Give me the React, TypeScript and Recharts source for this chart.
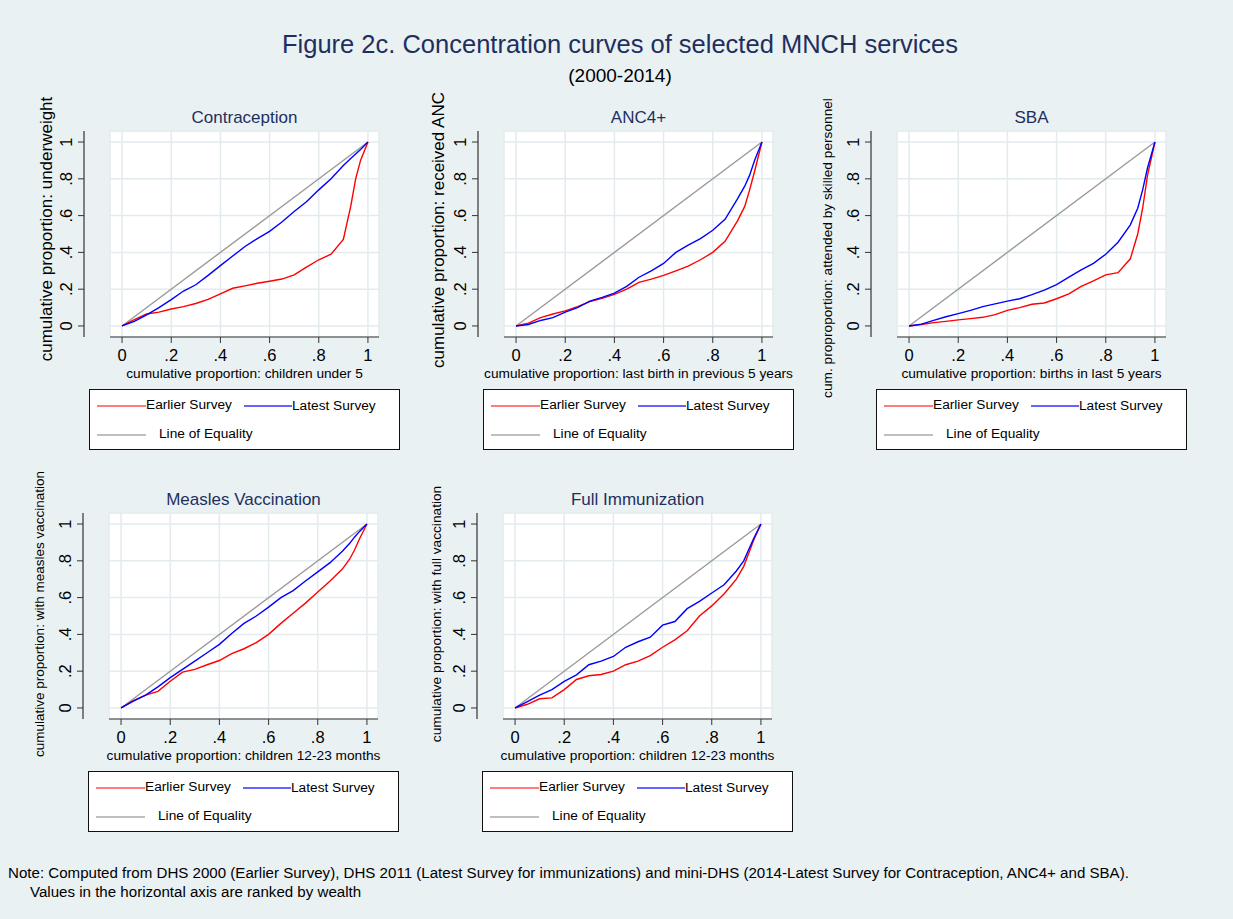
import React from "react";
import { LineChart, Line, XAxis, YAxis, CartesianGrid } from "recharts";

// cumulative share of population ranked by wealth (x)
const SHARE = [0, 0.05, 0.1, 0.15, 0.2, 0.25, 0.3, 0.35, 0.4, 0.45, 0.5, 0.55, 0.6, 0.65, 0.7, 0.75, 0.8, 0.85, 0.9, 0.93, 0.95, 0.97, 1];

// cumulative share of the outcome (y)
const CONTRA_EARLIER = [0, 0.035, 0.065, 0.075, 0.092, 0.105, 0.122, 0.145, 0.175, 0.205, 0.218, 0.232, 0.243, 0.255, 0.278, 0.32, 0.36, 0.39, 0.47, 0.65, 0.8, 0.9, 1];
const CONTRA_LATEST = [0, 0.025, 0.06, 0.1, 0.143, 0.19, 0.224, 0.275, 0.328, 0.38, 0.432, 0.475, 0.514, 0.565, 0.622, 0.675, 0.74, 0.8, 0.872, 0.91, 0.935, 0.96, 1];

const ANC_EARLIER = [0, 0.015, 0.045, 0.065, 0.082, 0.105, 0.132, 0.15, 0.172, 0.2, 0.237, 0.255, 0.275, 0.3, 0.325, 0.36, 0.4, 0.46, 0.57, 0.65, 0.74, 0.84, 1];
const ANC_LATEST = [0, 0.008, 0.03, 0.045, 0.075, 0.1, 0.135, 0.155, 0.178, 0.215, 0.265, 0.3, 0.34, 0.4, 0.44, 0.475, 0.52, 0.58, 0.69, 0.76, 0.82, 0.9, 1];

const SBA_EARLIER = [0, 0.008, 0.018, 0.025, 0.033, 0.04, 0.047, 0.062, 0.085, 0.1, 0.118, 0.125, 0.148, 0.175, 0.215, 0.245, 0.278, 0.29, 0.365, 0.5, 0.64, 0.82, 1];
const SBA_LATEST = [0, 0.01, 0.03, 0.05, 0.067, 0.085, 0.105, 0.12, 0.135, 0.148, 0.17, 0.195, 0.225, 0.265, 0.305, 0.34, 0.39, 0.455, 0.55, 0.64, 0.74, 0.86, 1];

const MEASLES_EARLIER = [0, 0.04, 0.07, 0.09, 0.145, 0.195, 0.21, 0.235, 0.258, 0.295, 0.322, 0.355, 0.4, 0.46, 0.515, 0.57, 0.63, 0.69, 0.755, 0.81, 0.86, 0.92, 1];
const MEASLES_LATEST = [0, 0.037, 0.07, 0.115, 0.165, 0.21, 0.255, 0.3, 0.346, 0.405, 0.46, 0.5, 0.548, 0.6, 0.638, 0.69, 0.74, 0.79, 0.852, 0.895, 0.93, 0.96, 1];

const FULL_EARLIER = [0, 0.02, 0.05, 0.055, 0.1, 0.155, 0.175, 0.182, 0.2, 0.235, 0.255, 0.285, 0.33, 0.37, 0.42, 0.5, 0.555, 0.62, 0.7, 0.77, 0.84, 0.91, 1];
const FULL_LATEST = [0, 0.035, 0.07, 0.1, 0.145, 0.18, 0.235, 0.255, 0.28, 0.33, 0.36, 0.385, 0.45, 0.47, 0.54, 0.58, 0.625, 0.67, 0.745, 0.8, 0.86, 0.92, 1];

const EQUALITY_X = [0, 1];
const EQUALITY_Y = [0, 1];

const AXIS_TICKS = [0, 0.2, 0.4, 0.6, 0.8, 1];
const AXIS_LABELS = ["0", ".2", ".4", ".6", ".8", "1"];

const BG = "#eaf1f3";
const GRID = "#e3ebee";
const NAVY = "#1e2f5e";
const AXIS = "#333333";
const FONT = '"Liberation Sans", Arial, Helvetica, sans-serif';
const TICK_FONT = 16.5;

const PANELS = [
  {
    title: "Contraception",
    xTitle: "cumulative proportion: children under 5",
    yTitle: "cumulative proportion: underweight",
    earlier: CONTRA_EARLIER,
    latest: CONTRA_LATEST,
    left: 0,
    top: 90,
    yFont: 17,
    yTitleDx: -64,
    yTitleDy: -5,
  },
  {
    title: "ANC4+",
    xTitle: "cumulative proportion: last birth in previous 5 years",
    yTitle: "cumulative proportion: received ANC",
    earlier: ANC_EARLIER,
    latest: ANC_LATEST,
    left: 394,
    top: 90,
    yFont: 17,
    yTitleDx: -66,
    yTitleDy: -4,
  },
  {
    title: "SBA",
    xTitle: "cumulative proportion: births in last 5 years",
    yTitle: "cum. proproportion: attended by skilled personnel",
    earlier: SBA_EARLIER,
    latest: SBA_LATEST,
    left: 787,
    top: 90,
    yFont: 13.7,
    yTitleDx: -70,
    yTitleDy: 14,
  },
  {
    title: "Measles Vaccination",
    xTitle: "cumulative proportion: children 12-23 months",
    yTitle: "cumulative proportion: with measles vaccination",
    earlier: MEASLES_EARLIER,
    latest: MEASLES_LATEST,
    left: -1,
    top: 472,
    yFont: 13.5,
    yTitleDx: -70,
    yTitleDy: -2,
  },
  {
    title: "Full Immunization",
    xTitle: "cumulative proportion: children 12-23 months",
    yTitle: "cumulative proportion: with full vaccination",
    earlier: FULL_EARLIER,
    latest: FULL_LATEST,
    left: 393,
    top: 472,
    yFont: 13.7,
    yTitleDx: -67,
    yTitleDy: -2,
  },
];

// chart geometry (same for every panel)
const CW = 402;
const CH = 372;
const PLOT_TOP = 41;
const PLOT_H = 206;
const Y_AXIS_W = 110;
const X_AXIS_H = 40;
const AXIS_GAP = 26;

const fmt = (v: number) => AXIS_LABELS[AXIS_TICKS.indexOf(v)] ?? String(v);

const YTick = (props: any) => {
  const { y, payload } = props;
  const ax = Y_AXIS_W - AXIS_GAP;
  const lx = ax - 18;
  return (
    <g>
      <line x1={ax - 6} x2={ax} y1={y} y2={y} stroke={AXIS} strokeWidth={1} />
      <text
        x={lx}
        y={y}
        transform={`rotate(-90 ${lx} ${y})`}
        textAnchor="middle"
        dominantBaseline="central"
        fontSize={TICK_FONT}
        fontFamily={FONT}
        fill="#000"
      >
        {fmt(payload.value)}
      </text>
    </g>
  );
};

function Panel({ p }: { p: (typeof PANELS)[number] }) {
  const data = SHARE.map((x, i) => ({ x, earlier: p.earlier[i], latest: p.latest[i] }));
  const equality = EQUALITY_X.map((x, i) => ({ x, equality: EQUALITY_Y[i] }));
  const plotW = CW - 23 - Y_AXIS_W;

  const yDecor = (lp: any) => {
    const vb = lp?.viewBox ?? { x: 0, y: PLOT_TOP, width: Y_AXIS_W, height: PLOT_H };
    const ax = vb.x + vb.width - AXIS_GAP;
    const cx = vb.x + vb.width + p.yTitleDx;
    const cy = vb.y + vb.height / 2 + p.yTitleDy;
    return (
      <g>
        <line x1={ax} x2={ax} y1={vb.y} y2={vb.y + vb.height} stroke={AXIS} strokeWidth={1.2} />
        <text
          x={cx}
          y={cy}
          transform={`rotate(-90 ${cx} ${cy})`}
          textAnchor="middle"
          dominantBaseline="central"
          fontSize={p.yFont}
          fontFamily={FONT}
          fill="#000"
        >
          {p.yTitle}
        </text>
      </g>
    );
  };

  const xDecor = (lp: any) => {
    const vb = lp?.viewBox ?? { x: Y_AXIS_W, y: PLOT_TOP + PLOT_H, width: plotW, height: X_AXIS_H };
    return (
      <text
        x={vb.x + vb.width / 2}
        y={vb.y + 36}
        textAnchor="middle"
        dominantBaseline="central"
        fontSize={13.7}
        fontFamily={FONT}
        fill="#000"
      >
        {p.xTitle}
      </text>
    );
  };

  return (
    <div style={{ position: "absolute", left: p.left, top: p.top, width: CW, height: CH }}>
      <div
        style={{
          position: "absolute",
          left: Y_AXIS_W,
          width: plotW,
          top: PLOT_TOP - 23,
          textAlign: "center",
          fontSize: 17,
          color: NAVY,
          lineHeight: "20px",
        }}
      >
        {p.title}
      </div>
      <LineChart
        width={CW}
        height={CH}
        style={{ overflow: "visible" }}
        margin={{ top: PLOT_TOP, right: 23, left: 0, bottom: CH - PLOT_TOP - PLOT_H - X_AXIS_H }}
      >
        <CartesianGrid stroke={GRID} strokeWidth={1.5} fill="#ffffff" />
        <XAxis
          dataKey="x"
          type="number"
          domain={[-0.049, 1.045]}
          ticks={AXIS_TICKS}
          tickFormatter={fmt}
          allowDataOverflow
          height={X_AXIS_H}
          stroke={AXIS}
          tickSize={6}
          tickMargin={6}
          tick={{ fill: "#000", fontSize: TICK_FONT, fontFamily: FONT }}
          label={xDecor}
        />
        <YAxis
          type="number"
          domain={[-0.06, 1.06]}
          ticks={AXIS_TICKS}
          allowDataOverflow
          width={Y_AXIS_W}
          axisLine={false}
          tickLine={false}
          tick={<YTick />}
          label={yDecor}
        />
        <Line
          data={equality}
          dataKey="equality"
          stroke="#9a9a9a"
          strokeWidth={1.4}
          dot={false}
          isAnimationActive={false}
        />
        <Line
          data={data}
          dataKey="earlier"
          stroke="#ff0000"
          strokeWidth={1.4}
          dot={false}
          isAnimationActive={false}
        />
        <Line
          data={data}
          dataKey="latest"
          stroke="#0000ff"
          strokeWidth={1.4}
          dot={false}
          isAnimationActive={false}
        />
      </LineChart>
      {/* legend box */}
      <div
        style={{
          position: "absolute",
          left: 89,
          top: 299,
          width: 309,
          height: 59,
          background: "#fff",
          border: "1px solid #111",
          fontSize: 13.7,
          color: "#000",
        }}
      >
        <svg width={309} height={59} style={{ position: "absolute", left: 0, top: 0 }}>
          <line x1={7} x2={56} y1={16} y2={16} stroke="#ff5050" strokeWidth={1.5} />
          <line x1={154} x2={202} y1={16} y2={16} stroke="#3030ff" strokeWidth={1.5} />
          <line x1={7} x2={56} y1={45} y2={45} stroke="#aaaaaa" strokeWidth={1.5} />
        </svg>
        <span style={{ position: "absolute", left: 56, top: 7, lineHeight: "16px" }}>Earlier Survey</span>
        <span style={{ position: "absolute", left: 202, top: 8, lineHeight: "16px" }}>Latest Survey</span>
        <span style={{ position: "absolute", left: 69, top: 36, lineHeight: "16px" }}>Line of Equality</span>
      </div>
    </div>
  );
}

export default function App() {
  return (
    <div
      style={{
        position: "fixed",
        left: 0,
        top: 0,
        width: 1233,
        height: 919,
        background: BG,
        fontFamily: FONT,
        overflow: "hidden",
      }}
    >
      <div style={{ position: "absolute", left: 0, width: 1240, top: 30, textAlign: "center", fontSize: 25.5, color: NAVY, lineHeight: "28px" }}>
        Figure 2c. Concentration curves of selected MNCH services
      </div>
      <div style={{ position: "absolute", left: 0, width: 1240, top: 65, textAlign: "center", fontSize: 19, color: "#000", lineHeight: "22px" }}>
        (2000-2014)
      </div>
      {PANELS.map((p) => (
        <Panel key={p.title} p={p} />
      ))}
      <div style={{ position: "absolute", left: 8, top: 863, fontSize: 15.1, color: "#000", lineHeight: "19px", whiteSpace: "nowrap" }}>
        Note: Computed from DHS 2000 (Earlier Survey), DHS 2011 (Latest Survey for immunizations) and mini-DHS (2014-Latest Survey for Contraception, ANC4+ and SBA).
        <br />
        <span style={{ paddingLeft: 22 }}>Values in the horizontal axis are ranked by wealth</span>
      </div>
    </div>
  );
}
